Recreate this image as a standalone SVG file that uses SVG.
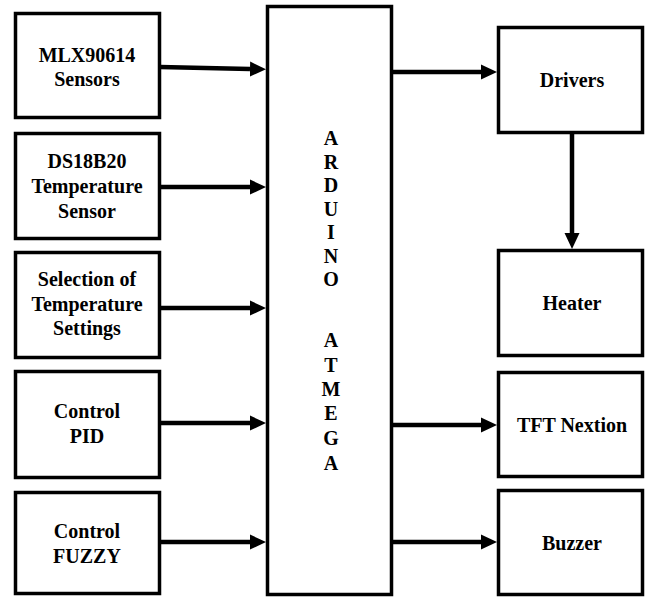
<svg xmlns="http://www.w3.org/2000/svg" width="651" height="597" viewBox="0 0 651 597">
<style>
.box{fill:#fff;stroke:#000;stroke-width:3.5}
text{font-family:'Liberation Serif','Times New Roman',Times,'DejaVu Serif',serif;font-weight:700;font-size:20px;fill:#000;text-anchor:middle}
.c{stroke:#000;stroke-width:4.5;fill:none}
</style>
<defs>
<marker id="ah" markerUnits="userSpaceOnUse" markerWidth="18" markerHeight="18" viewBox="0 -9 18 18" refX="0" refY="0" orient="auto">
<path d="M0,-7.5 L16,0 L0,7.5 Z" fill="#000"/>
</marker>
</defs>
<rect width="651" height="597" fill="#fff"/>
<g id="mlx"><rect class="box" x="15.5" y="13.5" width="144" height="104"/><text x="87" y="62">MLX90614</text><text x="87" y="86">Sensors</text></g>
<g id="ds18b20"><rect class="box" x="15.5" y="133.5" width="144" height="105"/><text x="87" y="168">DS18B20</text><text x="87" y="193">Temperature</text><text x="87" y="218">Sensor</text></g>
<g id="selection"><rect class="box" x="15.5" y="252.5" width="144" height="105"/><text x="87" y="286">Selection of</text><text x="87" y="311">Temperature</text><text x="87" y="335">Settings</text></g>
<g id="pid"><rect class="box" x="15.5" y="371.5" width="144" height="106"/><text x="87" y="418">Control</text><text x="87" y="443">PID</text></g>
<g id="fuzzy"><rect class="box" x="15.5" y="492.5" width="144" height="101"/><text x="87" y="538">Control</text><text x="87" y="563">FUZZY</text></g>
<g id="arduino"><rect class="box" x="267.5" y="6.5" width="124" height="588"/>
<text x="331" y="145">A</text><text x="331" y="168.5">R</text><text x="331" y="192">D</text><text x="331" y="215.5">U</text><text x="331" y="239">I</text><text x="331" y="262.5">N</text><text x="331" y="286">O</text>
<text x="331" y="347">A</text><text x="331" y="372">T</text><text x="331" y="396">M</text><text x="331" y="420">E</text><text x="331" y="445">G</text><text x="331" y="470">A</text></g>
<g id="drivers"><rect class="box" x="498.5" y="27.5" width="144" height="105"/><text x="572" y="87">Drivers</text></g>
<g id="heater"><rect class="box" x="498.5" y="250.5" width="144" height="105"/><text x="572" y="310">Heater</text></g>
<g id="tft"><rect class="box" x="498.5" y="372.5" width="144" height="104"/><text x="572" y="432">TFT Nextion</text></g>
<g id="buzzer"><rect class="box" x="498.5" y="490.5" width="144" height="104"/><text x="572" y="550">Buzzer</text></g>
<g id="connectors">
<line class="c" x1="160" y1="67" x2="250" y2="69" marker-end="url(#ah)"/>
<line class="c" x1="160" y1="187" x2="250" y2="187" marker-end="url(#ah)"/>
<line class="c" x1="160" y1="308" x2="250" y2="308" marker-end="url(#ah)"/>
<line class="c" x1="159" y1="423" x2="250" y2="423" marker-end="url(#ah)"/>
<line class="c" x1="160" y1="542" x2="250" y2="542" marker-end="url(#ah)"/>
<line class="c" x1="391" y1="72" x2="481" y2="72" marker-end="url(#ah)"/>
<line class="c" x1="572" y1="133" x2="572" y2="233" marker-end="url(#ah)"/>
<line class="c" x1="391" y1="425" x2="481" y2="425" marker-end="url(#ah)"/>
<line class="c" x1="391" y1="542" x2="481" y2="542" marker-end="url(#ah)"/>
</g>
</svg>
